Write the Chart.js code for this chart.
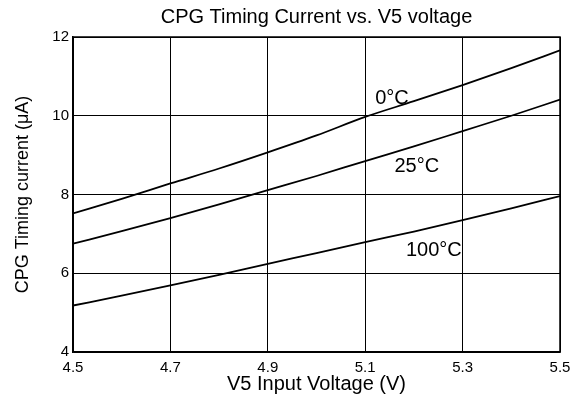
<!DOCTYPE html>
<html>
<head>
<meta charset="utf-8">
<script src="https://cdn.jsdelivr.net/npm/chart.js@4/dist/chart.umd.min.js"></script>
<style>
html,body{margin:0;padding:0;background:#fff;}
#wrap{width:580px;height:404px;position:relative;}
</style>
</head>
<body>
<div id="wrap"><canvas id="c" width="580" height="404"></canvas></div>
<script>
const voltages = [4.5, 4.6, 4.7, 4.8, 4.9, 5.0, 5.1, 5.2, 5.3, 5.4, 5.5];
const current0C   = [7.52, 7.89, 8.28, 8.66, 9.07, 9.50, 9.97, 10.37, 10.78, 11.21, 11.66];
const current25C  = [6.75, 7.07, 7.40, 7.75, 8.11, 8.47, 8.85, 9.22, 9.61, 10.00, 10.41];
const current100C = [5.18, 5.43, 5.69, 5.96, 6.24, 6.51, 6.79, 7.06, 7.35, 7.65, 7.96];
const seriesNames = ['0°C', '25°C', '100°C'];
const labelAnchors = [[5.155, 10.45], [5.206, 8.72], [5.241, 6.59]];
const xTicks = [4.5, 4.7, 4.9, 5.1, 5.3, 5.5];
const yTicks = [4, 6, 8, 10, 12];

const FONT = "'Liberation Sans', Arial, sans-serif";
const toPts = arr => arr.map((v, i) => ({x: voltages[i], y: v}));

const mkSet = (name, vals) => ({
  label: name, data: toPts(vals), borderColor: '#000', borderWidth: 1.8,
  pointRadius: 0, fill: false, cubicInterpolationMode: 'monotone'
});

const extras = {
  id: 'extras',
  afterDraw(chart) {
    const {ctx, chartArea: a, scales: {x, y}} = chart;
    ctx.save();
    ctx.fillStyle = '#000';
    ctx.textAlign = 'center';
    ctx.textBaseline = 'middle';
    ctx.font = "20px " + FONT;
    ctx.fillText('CPG Timing Current vs. V5 voltage', (a.left + a.right) / 2, 17);
    seriesNames.forEach((n, i) => {
      ctx.fillText(n, x.getPixelForValue(labelAnchors[i][0]), y.getPixelForValue(labelAnchors[i][1]));
    });
    ctx.strokeStyle = '#000';
    ctx.lineWidth = 1.5;
    ctx.strokeRect(a.left, a.top, a.right - a.left, a.bottom - a.top);
    ctx.restore();
  }
};

new Chart(document.getElementById('c'), {
  type: 'line',
  data: { datasets: [mkSet(seriesNames[0], current0C), mkSet(seriesNames[1], current25C), mkSet(seriesNames[2], current100C)] },
  options: {
    responsive: false, animation: false, devicePixelRatio: 1,
    layout: { padding: { left: 0, right: 20, top: 37, bottom: 0 } },
    plugins: { legend: { display: false }, title: { display: false }, tooltip: { enabled: false } },
    scales: {
      x: {
        type: 'linear', min: 4.5, max: 5.5,
        afterBuildTicks: s => { s.ticks = xTicks.map(v => ({value: v})); },
        afterFit: s => { s.height = 52; },
        grid: { color: '#000', lineWidth: 1, drawTicks: false },
        border: { color: '#000', width: 1.5 },
        ticks: { color: '#000', font: { family: FONT, size: 15 }, padding: 7, maxRotation: 0,
                 callback: v => v.toFixed(1) },
        title: { display: true, text: 'V5 Input Voltage (V)', color: '#000',
                 font: { family: FONT, size: 20 }, padding: { top: 0, bottom: 8 } }
      },
      y: {
        type: 'linear', min: 4, max: 12,
        afterBuildTicks: s => { s.ticks = yTicks.map(v => ({value: v})); },
        afterFit: s => { s.width = 73; },
        grid: { color: '#000', lineWidth: 1, drawTicks: false },
        border: { color: '#000', width: 1.5 },
        ticks: { color: '#000', font: { family: FONT, size: 15 }, padding: 4 },
        title: { display: true, text: 'CPG Timing current (μA)', color: '#000',
                 font: { family: FONT, size: 18 }, padding: { top: 12, bottom: 0 } }
      }
    }
  },
  plugins: [extras]
});
</script>
</body>
</html>
